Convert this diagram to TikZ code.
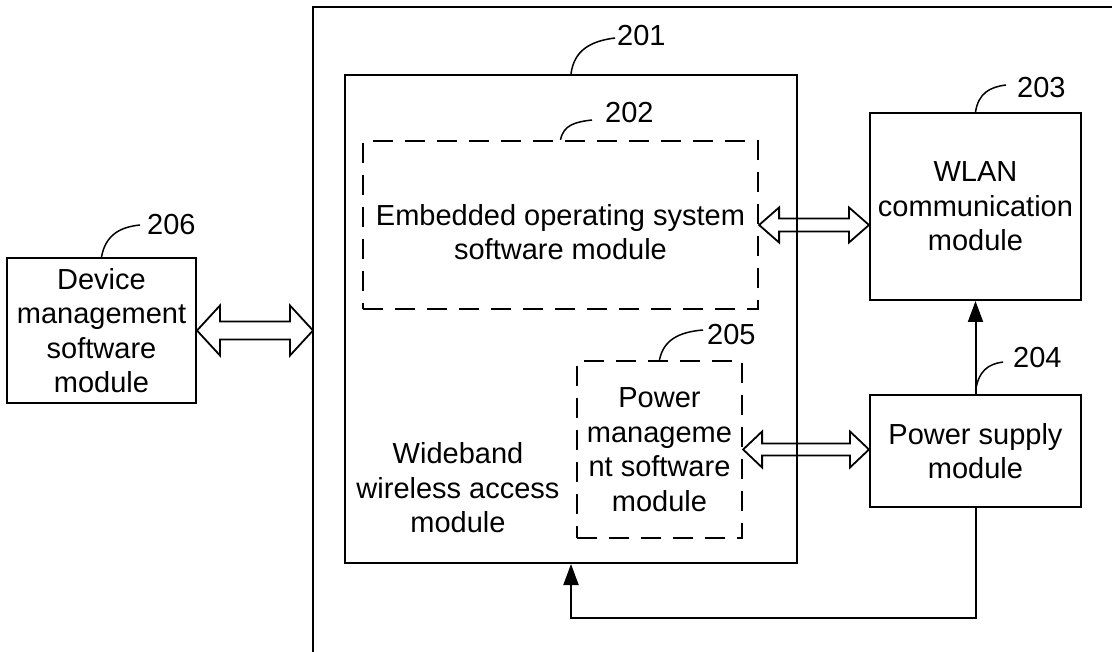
\documentclass[tikz,border=0pt]{standalone}
\usepackage{fontspec}
\setmainfont{Liberation Sans}
\usetikzlibrary{arrows.meta,calc}
\newcommand{\hollowdbl}[5]{%
  \draw[hollow] let \p1=(#1), \p2=(#2) in
   (\x1,\y1) -- (\x1+#5pt,\y1+#3pt) -- (\x1+#5pt,\y1+#4pt) -- (\x2-#5pt,\y1+#4pt)
   -- (\x2-#5pt,\y1+#3pt) -- (\x2,\y1) -- (\x2-#5pt,\y1-#3pt) -- (\x2-#5pt,\y1-#4pt)
   -- (\x1+#5pt,\y1-#4pt) -- (\x1+#5pt,\y1-#3pt) -- cycle;}
\begin{document}
\begin{tikzpicture}[x=1pt,y=-1pt,
  box/.style={draw, line width=2pt, inner sep=0pt, font=\fontsize{29}{34.5}\selectfont, align=center},
  dbox/.style={draw, line width=2.2pt, dash pattern=on 20pt off 12pt, inner sep=0pt, font=\fontsize{29}{34.5}\selectfont, align=center},
  txt/.style={font=\fontsize{29}{34.5}\selectfont, align=center, inner sep=0pt},
  lbl/.style={font=\fontsize{29}{34.5}\selectfont, inner sep=0pt, anchor=west},
  leader/.style={line width=1.5pt},
  conn/.style={line width=2pt, -{Triangle[length=21pt,width=15pt]}},
  hollow/.style={line width=1.8pt, line join=miter},
  outer/.style={line width=1.8pt},
]
\useasboundingbox (0,0) rectangle (1112,652);
\fill[white] (0,0) rectangle (1112,652);

% outer (open) frame
\coordinate (oBL) at (313,652);
\coordinate (oTL) at (313,7);
\coordinate (oTR) at (1112,7);
\coordinate (oIn) at (313,332);
\draw[outer] (oBL) -- (oTL) -- (oTR);

% boxes
\node[box, minimum width=452pt, minimum height=488pt] (n201) at (571,319) {};
\node[dbox, minimum width=395pt, minimum height=168pt] (n202) at (560.5,225) {};
\node[txt] (t202) at (560.5,232) {Embedded operating system\\software module};
\node[box, minimum width=211pt, minimum height=187pt] (n203) at (975.5,206.5) {WLAN\\communication\\module};
\node[box, minimum width=211pt, minimum height=112pt] (n204) at (975.5,451) {Power supply\\module};
\node[dbox, minimum width=165pt, minimum height=177pt] (n205) at (659.5,449.5) {Power\\manageme\\nt software\\module};
\node[box, minimum width=189pt, minimum height=145pt] (n206) at (101.5,330.5) {Device\\management\\software\\module};
\node[txt] (wide) at (458,488) {Wideband\\wireless access\\module};

% reference labels
\node[lbl] (l201) at (617,36) {201};
\node[lbl] (l202) at (605,113) {202};
\node[lbl] (l203) at (1017,88) {203};
\node[lbl] (l204) at (1013,358) {204};
\node[lbl] (l205) at (707,335) {205};
\node[lbl] (l206) at (147,225) {206};

\draw[leader] (n201.north) .. controls +(3,-24) and +(-24,3) .. ($(l201.west)+(-2,2)$);
\draw[leader] (n202.north) .. controls +(3,-15) and +(-17,2) .. ($(l202.west)+(-13,7)$);
\draw[leader] (n203.north) .. controls +(3,-19) and +(-16,2) .. ($(l203.west)+(-11,-3)$);
\draw[leader] ($(n204.north)+(0,-3)$) .. controls +(3,-20) and +(-15,2) .. ($(l204.west)+(-10,4)$);
\draw[leader] (n205.north) .. controls +(4,-20) and +(-24,2) .. ($(l205.west)+(-4,-5)$);
\draw[leader] (n206.north) .. controls +(4,-22) and +(-20,2) .. ($(l206.west)+(-7,0)$);

% connectors
\draw[conn] (n204.north) -- (n203.south);
\draw[conn] (n204.south) -- ++(0,110) -| (n201.south);

% hollow double arrows
\hollowdbl{n206.east}{oIn}{25}{9}{23}
\hollowdbl{n202.east}{n203.west}{17.5}{6.5}{20}
\hollowdbl{n205.east}{n204.west}{18}{6}{19}
\end{tikzpicture}
\end{document}
